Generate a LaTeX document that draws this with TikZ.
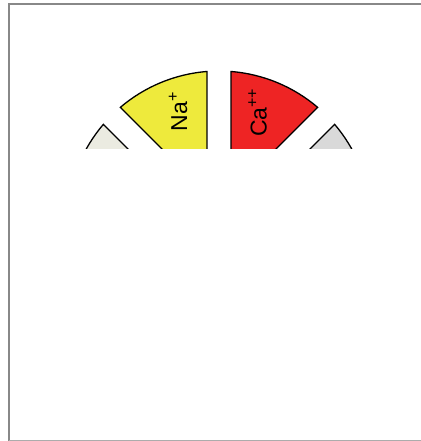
\documentclass[tikz,border=0pt]{standalone}
\usepackage{fontspec}
\setmainfont{Liberation Sans}
\usetikzlibrary{calc}
\definecolor{naYellow}{RGB}{238,234,60}
\definecolor{caRed}{RGB}{238,36,36}
\definecolor{leftGray}{RGB}{235,235,225}
\definecolor{rightGray}{RGB}{217,217,217}
\definecolor{frameGray}{RGB}{136,136,136}
\tikzset{
  sector/.style={draw=black, line width=1.3pt, line join=miter},
  ionlabel/.style={rotate=90, inner sep=0pt, font=\fontsize{23}{26}\selectfont},
}
\begin{document}
\begin{tikzpicture}[x=1pt,y=1pt]
\useasboundingbox (0,0) rectangle (420,441);
\draw[frameGray, line width=2pt] (9,-5) -- (9,437) -- (430,437);
\draw[frameGray!70, line width=1.5pt] (9,0.5) -- (430,0.5);
\coordinate (c) at (219,218);
\begin{scope}
\clip (0,292.5) rectangle (420,441);
% 135-180
\draw[sector, fill=leftGray] ($(c)+(157.5:31.4)$) -- ($(c)+(139.53:152)$) arc[start angle=139.53, end angle=175.47, radius=152] -- cycle;
% 90-135
\draw[sector, fill=naYellow] ($(c)+(112.5:31.4)$) -- ($(c)+(94.53:152)$) arc[start angle=94.53, end angle=130.47, radius=152] -- cycle;
% 45-90
\draw[sector, fill=caRed] ($(c)+(67.5:31.4)$) -- ($(c)+(49.53:152)$) arc[start angle=49.53, end angle=85.47, radius=152] -- cycle;
% 0-45
\draw[sector, fill=rightGray] ($(c)+(22.5:31.4)$) -- ($(c)+(4.53:152)$) arc[start angle=4.53, end angle=40.47, radius=152] -- cycle;
\end{scope}
\node[ionlabel] (na) at (178,329.5) {Na\textsuperscript{+}};
\node[ionlabel] (ca) at (257.5,328.5) {Ca\textsuperscript{++}};
\end{tikzpicture}
\end{document}
